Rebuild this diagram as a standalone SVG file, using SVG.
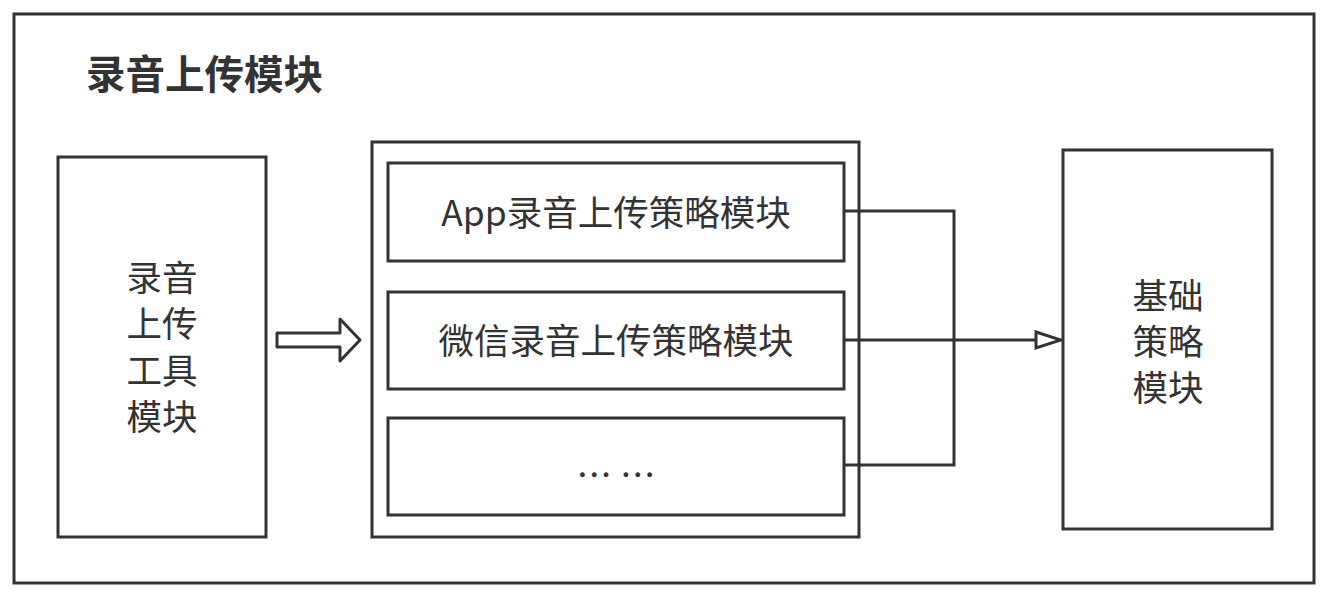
<svg xmlns="http://www.w3.org/2000/svg" width="1326" height="594" viewBox="0 0 1326 594">
<defs>
<style>
.box{fill:#fff;stroke:#333;stroke-width:3}
.t{font-family:"Noto Sans CJK SC","Noto Sans",sans-serif;fill:#333;font-size:35.5px;text-anchor:middle}
.ln{fill:none;stroke:#333;stroke-width:3}
</style>
<marker id="tri" markerWidth="30" markerHeight="24" refX="27" refY="10" orient="auto" markerUnits="userSpaceOnUse" viewBox="0 0 30 24">
<path d="M2,2 L27,10 L2,18 Z" fill="#fff" stroke="#333" stroke-width="3"/>
</marker>
</defs>
<rect width="1326" height="594" fill="#fff"/>
<g id="frame">
<rect class="box" x="14" y="14" width="1300" height="569"/>
<text x="86" y="89" style="font-family:'Noto Sans CJK SC',sans-serif;font-weight:bold;font-size:39.5px;fill:#333">录音上传模块</text>
</g>
<g id="tool">
<rect class="box" x="58" y="157" width="208" height="380"/>
<text class="t" x="162" y="291">录音</text>
<text class="t" x="162" y="337">上传</text>
<text class="t" x="162" y="384">工具</text>
<text class="t" x="162" y="430">模块</text>
</g>
<g id="strategy">
<rect class="box" x="372" y="142" width="487" height="395"/>
</g>
<g id="app">
<rect class="box" x="388" y="163" width="456" height="98"/>
<text class="t" x="616" y="226">App录音上传策略模块</text>
</g>
<g id="wechat">
<rect class="box" x="388" y="292" width="456" height="97"/>
<text class="t" x="616" y="354">微信录音上传策略模块</text>
</g>
<g id="more">
<rect class="box" x="388" y="418" width="456" height="97"/>
<text class="t" x="616" y="488">… …</text>
</g>
<g id="base">
<rect class="box" x="1063" y="150" width="209" height="379"/>
<text class="t" x="1168" y="309">基础</text>
<text class="t" x="1168" y="355">策略</text>
<text class="t" x="1168" y="401">模块</text>
</g>
<g id="connectors">
<path d="M277,333 H340 V319 L360,340 L340,361 V347 H277 Z" fill="#fff" stroke="#333" stroke-width="3" stroke-linejoin="round"/>
<path class="ln" d="M844,211 H954 V465 H844"/>
<path class="ln" d="M844,340 H1061" marker-end="url(#tri)"/>
</g>
</svg>
